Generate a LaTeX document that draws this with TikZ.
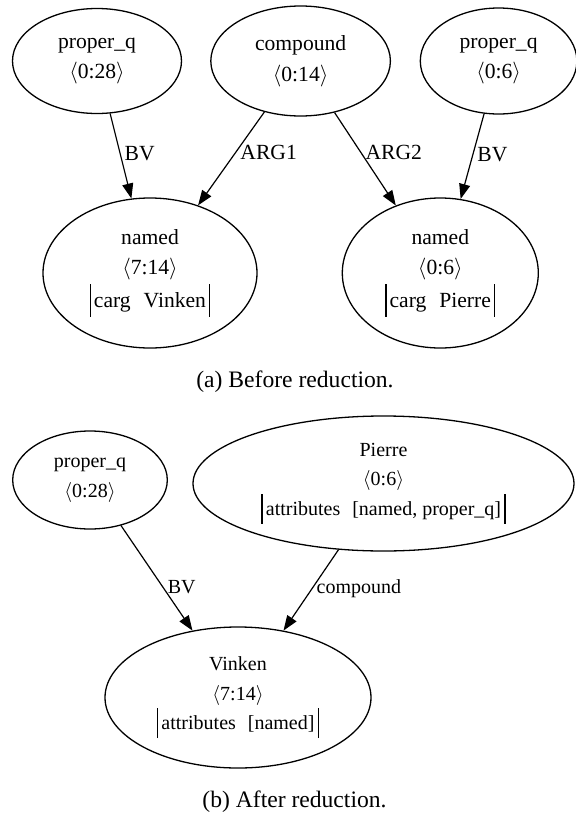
\documentclass[tikz,border=0pt]{standalone}
\usepackage{fontspec}
\setmainfont{Liberation Serif}
\usetikzlibrary{shapes.geometric, positioning, arrows.meta}
\newcommand{\attrbar}{\rule[-0.42em]{0.7pt}{1.5em}}

\begin{document}
\begin{tikzpicture}[
        x=0.5pt, y=-0.5pt,
        pred/.style = {draw, ellipse, line width=0.65pt, inner sep=0pt, align=center, font=\fontsize{10.8}{15.3}\selectfont},
        predsmall/.style = {pred, font=\fontsize{10}{14.8}\selectfont},
        arrow/.style = {-{Triangle[length=7.5pt, width=5.5pt]}, line width=0.6pt},
        lbl/.style = {anchor=west, inner sep=2pt, font=\fontsize{10.8}{13}\selectfont},
        lblsmall/.style = {lbl, font=\fontsize{10}{12}\selectfont},
        caption/.style = {font=\fontsize{11.8}{14}\selectfont}
        ]
        \useasboundingbox (0,0) rectangle (575,814);

        % Knoten (a)
        \node[pred, minimum width=84.5pt, minimum height=52.5pt] (propA) at (97,61) {proper\_q\\\(\langle\)0:28\(\rangle\)};
        \node[pred, right=14pt of propA, minimum width=89.8pt, minimum height=55pt] (comp) {compound\\\(\langle\)0:14\(\rangle\)};
        \node[pred, right=14.3pt of comp, minimum width=78.3pt, minimum height=53pt] (propB) {proper\_q\\\(\langle\)0:6\(\rangle\)};
        \node[pred, minimum width=107pt, minimum height=75pt] (namedA) at (150,273) {named\\\(\langle\)7:14\(\rangle\)\\[1pt]\attrbar\kern1.5pt carg\hspace{0.6em}Vinken\kern1.5pt\attrbar};
        \node[pred, right=42pt of namedA, minimum width=98pt, minimum height=75pt] (namedB) {named\\\(\langle\)0:6\(\rangle\)\\[1pt]\attrbar\kern1.5pt carg\hspace{0.6em}Pierre\kern1.5pt\attrbar};

        % Pfeile (a)
        \draw[arrow] (propA) -- node[lbl, pos=0.47] {BV} (namedA);
        \draw[arrow] (comp) -- node[lbl, pos=0.43] {ARG1} (namedA);
        \draw[arrow] (comp) -- node[lbl, pos=0.43] {ARG2} (namedB);
        \draw[arrow] (propB) -- node[lbl, pos=0.48] {BV} (namedB);

        % Knoten (b)
        \node[predsmall, minimum width=77.3pt, minimum height=49pt] (propC) at (90,480) {proper\_q\\\(\langle\)0:28\(\rangle\)};
        \node[predsmall, minimum width=190.5pt, minimum height=67.5pt] (pierre) at (383.5,483.5) {Pierre\\\(\langle\)0:6\(\rangle\)\\\attrbar\kern1.5pt attributes\hspace{0.6em}[named, proper\_q]\kern1.5pt\attrbar};
        \node[predsmall, minimum width=133pt, minimum height=70.5pt] (vinken) at (238,697.5) {Vinken\\\(\langle\)7:14\(\rangle\)\\\attrbar\kern1.5pt attributes\hspace{0.6em}[named]\kern1.5pt\attrbar};

        % Pfeile (b)
        \draw[arrow] (propC) -- node[lblsmall, pos=0.59] {BV} (vinken);
        \draw[arrow] (pierre) -- node[lblsmall, pos=0.48] {compound} (vinken);

        % Unterschriften
        \node[caption] (capA) at (295,382) {(a) Before reduction.};
        \node[caption] (capB) at (294.5,802) {(b) After reduction.};

\end{tikzpicture}
\end{document}
